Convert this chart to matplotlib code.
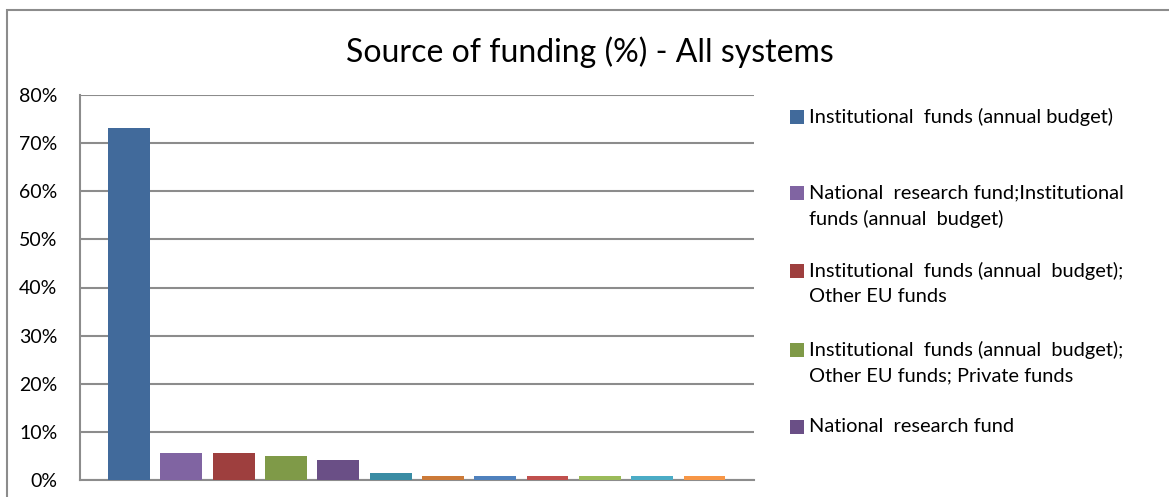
import matplotlib
matplotlib.use("Agg")
import matplotlib.pyplot as plt
from matplotlib.patches import Rectangle
from matplotlib.ticker import FuncFormatter

plt.rcParams['font.family'] = ['Lato', 'DejaVu Sans']

# ---- data ----
series_labels = [
    "Institutional  funds (annual budget)",
    "National  research fund;Institutional\nfunds (annual  budget)",
    "Institutional  funds (annual  budget);\nOther EU funds",
    "Institutional  funds (annual  budget);\nOther EU funds; Private funds",
    "National  research fund",
    None, None, None, None, None, None, None,
]
values = [73.1, 5.7, 5.7, 5.0, 4.2, 1.5, 0.8, 0.8, 0.8, 0.8, 0.8, 0.8]
colors = ["#416A9B", "#8064A2", "#9E3F3E", "#7F9A48", "#6A4F86", "#3A8CA4",
          "#CC7A38", "#4F81BD", "#C0504D", "#9BBB59", "#4BACC6", "#F79646"]
yticks = [0, 10, 20, 30, 40, 50, 60, 70, 80]
title = "Source of funding (%) - All systems"

W, H = 1169, 497
fig = plt.figure(figsize=(W / 100, H / 100), dpi=100)

# outer chart border
fig.patches.append(Rectangle((7 / W, -0.1), 1.2, (H - 10) / H + 0.1, transform=fig.transFigure,
                             fill=False, edgecolor="#8C8C8C", linewidth=1.5))

ax = fig.add_axes([79.5 / W, (H - 480) / H, (754 - 79.5) / W, (480 - 95) / H])
x = list(range(len(values)))
ax.bar(x, values, width=0.80, color=colors, zorder=3)
ax.set_xlim(-0.946, len(values) - 1 + 0.946)
ax.set_ylim(0, 80)
ax.set_yticks(yticks)
ax.yaxis.set_major_formatter(FuncFormatter(lambda v, p: f"{int(v)}%"))
ax.set_xticks([])
ax.grid(axis="y", color="#8C8C8C", linewidth=1.5, zorder=0)
for s in ["top", "right"]:
    ax.spines[s].set_visible(False)
ax.spines["left"].set_color("#8C8C8C")
ax.spines["left"].set_linewidth(1.5)
ax.spines["bottom"].set_color("#8C8C8C")
ax.spines["bottom"].set_linewidth(1.5)
ax.tick_params(axis="y", length=0, pad=16, labelsize=14, labelcolor="#000000")

fig.text(590 / W, 1 - 52 / H, title, ha="center", va="center", fontsize=23)

# legend (first five series shown, as in the reference)
legend_y = [117, 193, 271, 350, 427]
for lbl, col, yy in zip(series_labels, colors, legend_y):
    if lbl is None:
        continue
    fig.patches.append(Rectangle((790 / W, 1 - (yy + 7) / H), 14 / W, 14 / H,
                                 transform=fig.transFigure, facecolor=col, edgecolor="none"))
    fig.text(809 / W, 1 - (yy - 9) / H, lbl, ha="left", va="top", fontsize=14.4,
             linespacing=1.6)

fig.savefig("out.png", dpi=100)
